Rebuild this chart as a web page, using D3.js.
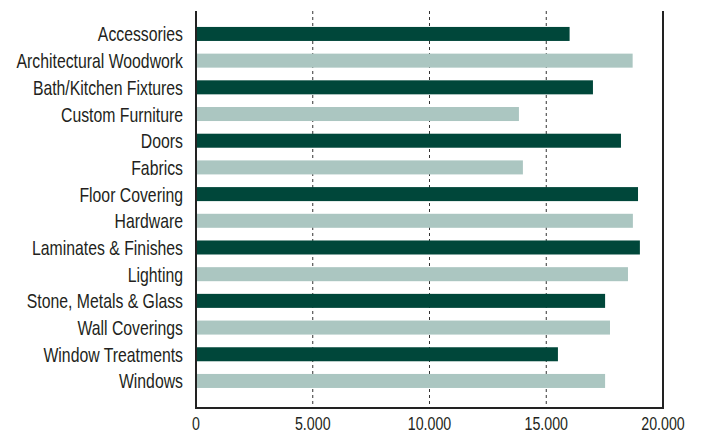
<!DOCTYPE html>
<html>
<head>
<meta charset="utf-8">
<script src="https://cdn.jsdelivr.net/npm/d3@7"></script>
<style>
  body { margin: 0; background: #fff; }
  text { font-family: "Liberation Sans", Arial, sans-serif; fill: #231f20; }
</style>
</head>
<body>
<svg class="chart" width="701" height="433"></svg>
<script>
'use strict';

var categories = ['Accessories', 'Architectural Woodwork', 'Bath/Kitchen Fixtures', 'Custom Furniture',
    'Doors', 'Fabrics', 'Floor Covering', 'Hardware', 'Laminates & Finishes', 'Lighting',
    'Stone, Metals & Glass', 'Wall Coverings', 'Window Treatments', 'Windows'];
var values = [16000, 18700, 17000, 13830, 18200, 14000, 18930, 18710, 19010, 18500,
    17520, 17730, 15500, 17520];
var ticks = [0, 5000, 10000, 15000, 20000];

var plotLeft = 196, plotRight = 663, plotTop = 11, plotBottom = 408;
var squeeze = 0.79; // fake a condensed face

var locale = d3.formatLocale({decimal: ',', thousands: '.', grouping: [3], currency: ['', '']});
var fmt = locale.format(',d');

var x = d3.scaleLinear()
    .domain([0, 20000])
    .range([plotLeft, plotRight]);

var y = d3.scaleBand()
    .domain(categories)
    .range([20.6, 394.3])
    .paddingInner(0.475)
    .paddingOuter(0.2375);

var svg = d3.select('.chart');

// dashed grid
svg.selectAll('line.grid')
    .data(ticks.slice(1, -1))
    .enter().append('line')
    .attr('class', 'grid')
    .attr('x1', function (d) {return x(d);})
    .attr('x2', function (d) {return x(d);})
    .attr('y1', plotTop)
    .attr('y2', plotBottom)
    .style('stroke', '#333')
    .style('stroke-width', 1)
    .style('stroke-dasharray', '3,3');

svg.selectAll('rect')
    .data(values)
    .enter().append('rect')
    .attr('x', x(0))
    .attr('y', function (d, i) {return y(categories[i]);})
    .attr('width', function (d) {return x(d) - x(0);})
    .attr('height', y.bandwidth())
    .style('fill', function (d, i) {return (i % 2 === 0) ? '#00473a' : '#abc6c1';});

// frame: left, bottom, right
svg.append('path')
    .attr('d', 'M' + plotLeft + ',' + plotTop + 'V' + plotBottom + 'H' + plotRight + 'V' + plotTop)
    .style('fill', 'none')
    .style('stroke', '#222')
    .style('stroke-width', 2);

svg.selectAll('text.cat')
    .data(categories)
    .enter().append('text')
    .attr('class', 'cat')
    .attr('transform', function (d) {
        return 'translate(' + (plotLeft - 13) + ',' + (y(d) + y.bandwidth() / 2 + 7.5) + ') scale(' + squeeze + ',1)';
    })
    .attr('text-anchor', 'end')
    .style('font-size', '20px')
    .text(function (d) {return d;});

svg.selectAll('text.tick')
    .data(ticks)
    .enter().append('text')
    .attr('class', 'tick')
    .attr('transform', function (d) {return 'translate(' + x(d) + ',430) scale(' + squeeze + ',1)';})
    .attr('text-anchor', 'middle')
    .style('font-size', '18px')
    .text(function (d) {return fmt(d);});
</script>
</body>
</html>
